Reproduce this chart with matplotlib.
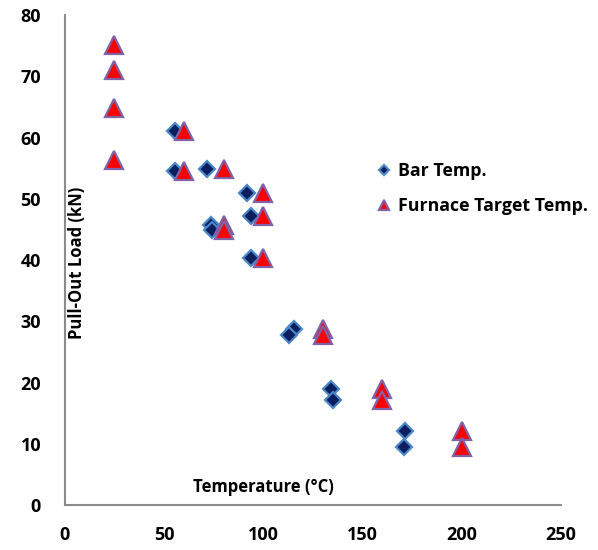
import matplotlib
matplotlib.use("Agg")
import matplotlib.pyplot as plt

plt.rcParams.update({
    "font.family": ["Open Sans", "DejaVu Sans"],
    "font.weight": "bold",
})

nan = float("nan")

# Pull-out load (kN) for each test, with bar and furnace target temperatures
load_kn = [75.1, 71.0, 64.9, 56.3, 61.1, 54.5, 54.8, 45.7, 44.9, 50.9, 47.2,
           40.3, 28.7, 27.8, 18.9, 17.2, 12.1, 9.4]
bar_temp = [nan, nan, nan, nan, 55.6, 55.6, 71.9, 73.6, 74.1, 91.8, 93.6, 94,
            115.4, 112.8, 134.2, 135.1, 171.2, 170.8]
furnace_temp = [25, 25, 25, 25, 60, 60, 80, 80, 80, 100, 100, 100, 130, 130,
                160, 160, 200, 200]

x_ticks = [0, 50, 100, 150, 200, 250]
y_ticks = [0, 10, 20, 30, 40, 50, 60, 70, 80]

fig = plt.figure(figsize=(5.98, 5.5), dpi=100)
ax = fig.add_axes([0.1082, 0.0818, 0.83, 0.8909])

ax.plot(bar_temp, load_kn, ls="none", marker="D", ms=8.2,
        mfc="#0b1f5e", mec="#4a86c8", mew=1.6, label="Bar Temp.")
ax.plot(furnace_temp, load_kn, ls="none", marker="^", ms=13,
        mfc="#ff0000", mec="#7f62a8", mew=1.6, label="Furnace Target Temp.")

ax.set_xlim(0, 250)
ax.set_ylim(0, 80)
ax.set_xticks(x_ticks)
ax.set_yticks(y_ticks)
ax.tick_params(length=0, labelsize=13)
ax.tick_params(axis="x", pad=15)
ax.tick_params(axis="y", pad=17)

for s in ["top", "right"]:
    ax.spines[s].set_visible(False)
for s in ["left", "bottom"]:
    ax.spines[s].set_color("#8c8c8c")
    ax.spines[s].set_linewidth(1.5)

ax.text(0.025, 0.494, "Pull-Out Load (kN)", transform=ax.transAxes,
        rotation=90, ha="center", va="center", fontsize=12, fontweight="bold")
ax.text(0.40, 0.037, "Temperature (°C)", transform=ax.transAxes,
        ha="center", va="center", fontsize=12, fontweight="bold")

leg = ax.legend(loc="upper left", bbox_to_anchor=(0.614, 0.714), frameon=False,
                borderaxespad=0, handlelength=0.8, handletextpad=0.4,
                labelspacing=0.95, markerscale=0.6, prop={"size": 12.8, "weight": "bold"})

fig.savefig("out.png", dpi=100)
